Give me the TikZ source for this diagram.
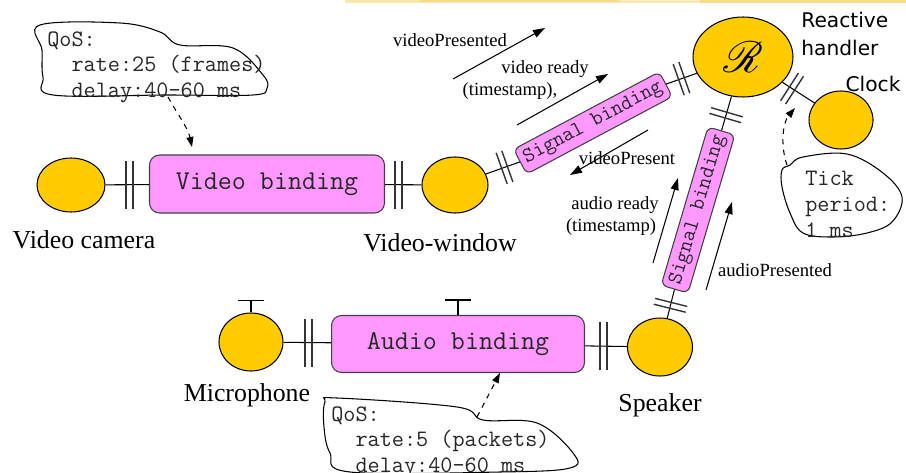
\documentclass[tikz,border=0pt]{standalone}
\usepackage{fontspec}
\setmainfont{Liberation Serif}
\newfontfamily\sansf{DejaVu Sans}
\usepackage{mathrsfs}
\usetikzlibrary{shapes.geometric,arrows.meta,calc}
\definecolor{gold}{HTML}{FFCC00}
\definecolor{pinkv}{HTML}{FF99FF}
\definecolor{band}{HTML}{F6D36A}
\tikzset{
  porth/.pic={\draw[line width=1pt,black!80] (-0.07cm,-0.48cm) -- (-0.07cm,0.48cm) (0.07cm,-0.48cm) -- (0.07cm,0.48cm);},
  portd/.pic={\draw[line width=0.8pt,black!80] (-0.06cm,-0.33cm) -- (-0.06cm,0.33cm) (0.06cm,-0.33cm) -- (0.06cm,0.33cm);}
}
\begin{document}
\begin{tikzpicture}[x=0.02cm,y=-0.02cm,
  dev/.style={ellipse,draw=black,fill=gold,line width=0.6pt,inner sep=0pt},
  bind/.style={draw=black!75,fill=pinkv,line width=0.6pt,rounded corners=0.2cm,inner sep=0pt,text=black!85,font=\ttfamily\fontsize{15.5pt}{18pt}\selectfont},
  sig/.style={bind,rounded corners=0.12cm,minimum width=3.3cm,minimum height=0.56cm,font=\ttfamily\fontsize{12.2pt}{14pt}\selectfont},
  conn/.style={line width=0.6pt},
  bigl/.style={font=\fontsize{14.7pt}{17pt}\selectfont,inner sep=0pt},
  smalll/.style={font=\fontsize{10.6pt}{12.5pt}\selectfont,inner sep=0pt},
  sigarrow/.style={line width=0.6pt,-{Triangle[length=2.4mm,width=1.6mm]}},
  qos/.style={align=left,font=\ttfamily\fontsize{13.4pt}{14.7pt}\selectfont,inner sep=0pt,anchor=north west,text=black!85},
  blob/.style={line width=0.6pt},
  qarrow/.style={dashed,line width=0.6pt,-{Triangle[length=2mm,width=1.4mm]}},
  sanslab/.style={font=\sansf\fontsize{11.5pt}{16pt}\selectfont,inner sep=0pt}
]
\useasboundingbox (0,0) rectangle (906,473);
% top brush band
\fill[band!55] (345,0) rectangle (906,3);
\fill[band!80] (420,0) rectangle (620,2);
\fill[band!80] (700,0) rectangle (906,3.5);
\fill[band!40] (620,0) rectangle (700,1.5);

% nodes
\node[dev,minimum width=1.36cm,minimum height=1.08cm] (cam) at (71,185) {};
\node[bind,minimum width=4.7cm,minimum height=1.16cm] (vb) at (267,184) {Video binding};
\node[dev,minimum width=1.32cm,minimum height=1.12cm] (vw) at (455,185) {};
\node[sig,rotate=28] (sb1) at (593,123) {Signal binding};
\node[dev,minimum width=2cm,minimum height=1.6cm] (rh) at (743,57) {\raisebox{-8pt}{\fontsize{30pt}{32pt}\selectfont$\mathscr{R}$}};
\node[dev,minimum width=1.28cm,minimum height=1.16cm] (clk) at (841,120) {};
\node[sig,rotate=73.5] (sb2) at (698,210) {Signal binding};
\node[dev,minimum width=1.3cm,minimum height=1.16cm] (spk) at (660,347) {};
\node[bind,minimum width=5.06cm,minimum height=1.14cm] (ab) at (458,344) {Audio binding};
\node[dev,minimum width=1.28cm,minimum height=1.16cm] (mic) at (251,342) {};

% connectors
\draw[conn] (cam) -- (vb) pic[pos=0.55]{porth};
\draw[conn] (vb) -- (vw) pic[pos=0.38]{porth};
\draw[conn] (vw) -- (sb1.west) pic[pos=0.55,sloped]{portd};
\draw[conn] (sb1.east) -- (rh) pic[pos=0.5,sloped]{portd};
\draw[conn] (rh) -- (sb2.east) pic[pos=0.55,sloped]{portd};
\draw[conn] (sb2.west) -- (spk) pic[pos=0.55,sloped]{portd};
\draw[conn] (rh) -- (clk) pic[pos=0.3,sloped]{portd};
\draw[conn] (mic) -- (ab) pic[pos=0.53]{porth};
\draw[conn] (ab) -- (spk) pic[pos=0.44]{porth};
\draw[conn] (mic.north) -- ++(0,-12) ++(-13,0) -- ++(26,0);
\draw[conn] (ab.north) -- ++(0,-15) ++(-13,0) -- ++(26,0);

% labels
\node[bigl] (lcam) at (84,240) {Video camera};
\node[bigl] (lvw) at (440,243) {Video-window};
\node[bigl] (lmic) at (247,395) {Microphone};
\node[bigl] (lspk) at (660,405) {Speaker};
\node[sanslab,align=left,anchor=north west] (lrh) at (801,12) {Reactive\\handler};
\node[sanslab] (lclk) at (873,84) {Clock};

% signal arrows
\coordinate (a1s) at (453,79); \coordinate (a1e) at (545,28);
\draw[sigarrow] (a1s) -- (a1e);
\node[smalll] (t1) at (450,40) {videoPresented};
\coordinate (a2s) at (517,125); \coordinate (a2e) at (608,74);
\draw[sigarrow] (a2s) -- (a2e);
\node[smalll] (t2a) at (545,69) {video ready};
\node[smalll] (t2b) at (510,91) {(timestamp),};
\coordinate (a3s) at (648,130); \coordinate (a3e) at (570,175);
\draw[sigarrow] (a3s) -- (a3e);
\node[smalll] (t3) at (627,158) {videoPresent};
\coordinate (a4s) at (653,263); \coordinate (a4e) at (678,178);
\draw[sigarrow] (a4s) -- (a4e);
\node[smalll] (t4a) at (615,205) {audio ready};
\node[smalll] (t4b) at (611,227) {(timestamp)};
\coordinate (a5s) at (706,290); \coordinate (a5e) at (732,202);
\draw[sigarrow] (a5s) -- (a5e);
\node[smalll] (t5) at (775,270) {audioPresented};

% QoS blob top
\draw[blob] plot[smooth cycle, tension=0.6] coordinates {(40,25) (120,23) (160,32) (180,45) (233,48) (263,75) (267,88) (253,95) (167,95) (53,95) (43,77) (42,50)};
\node[qos] (q1) at (47,31) {QoS:\\\phantom{xx}rate:25 (frames)\\\phantom{xx}delay:40-60 ms};
\coordinate (q1s) at (168,97); \coordinate (q1e) at (192,147);
\draw[qarrow] (q1s) .. controls (178,115) and (188,128) .. (q1e);

% QoS blob bottom
\draw[blob] plot[smooth cycle, tension=0.6] coordinates {(325,402) (337,398) (457,407) (483,420) (537,423) (573,453) (570,468) (500,472) (350,472) (330,453) (324,427)};
\node[qos] (q2) at (331,406) {QoS:\\\phantom{xx}rate:5 (packets)\\\phantom{xx}delay:40-60 ms};
\coordinate (q2s) at (477,417); \coordinate (q2e) at (500,373);
\draw[qarrow] (q2s) -- (q2e);

% Tick blob
\draw[blob] plot[smooth cycle, tension=0.6] coordinates {(782,170) (790,165) (803,157) (847,154) (883,173) (902,197) (892,222) (867,233) (833,237) (803,233) (790,213) (782,187)};
\node[qos] (q3) at (805,171) {Tick\\period:\\1 ms};
\coordinate (q3s) at (787,165); \coordinate (q3e) at (795,108);
\draw[qarrow] (q3s) .. controls (780,145) and (783,122) .. (q3e);
\end{tikzpicture}
\end{document}
